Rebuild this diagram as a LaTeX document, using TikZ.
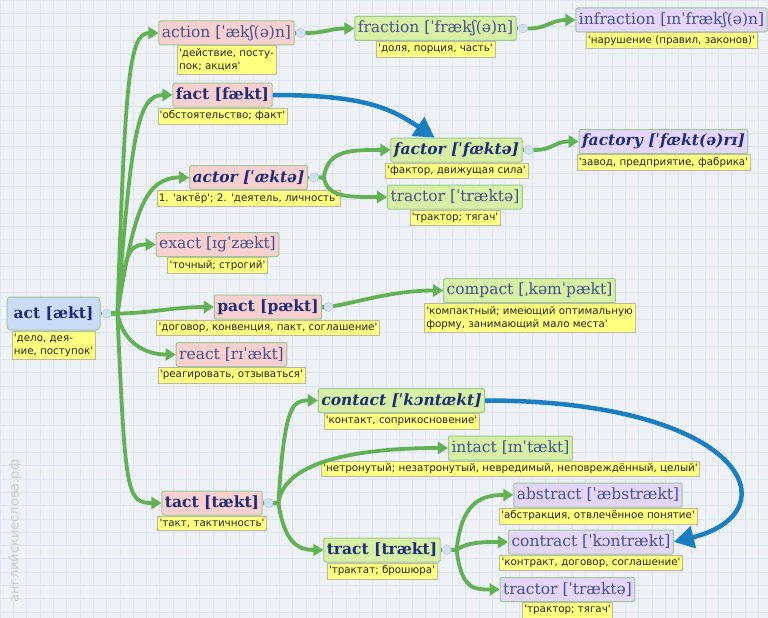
\documentclass[tikz,border=0pt]{standalone}
\usepackage{fontspec}
\usetikzlibrary{arrows.meta,positioning}
\newfontfamily\wordfont{DejaVu Serif}
\newfontfamily\notefont{DejaVu Sans}
\definecolor{paper}{HTML}{EEF2F6}
\definecolor{gridblue}{HTML}{DDE6EE}
\definecolor{pinkfill}{HTML}{F8D0D0}
\definecolor{bluefill}{HTML}{CADCF8}
\definecolor{greenfill}{HTML}{D8F0A6}
\definecolor{violetfill}{HTML}{E4D6FA}
\definecolor{wordedge}{HTML}{9CC990}
\definecolor{wordink}{HTML}{44528E}
\definecolor{boldink}{HTML}{1E2C78}
\definecolor{notefill}{HTML}{FFFF80}
\definecolor{noteedge}{HTML}{B9B9A6}
\definecolor{linkgreen}{HTML}{62B255}
\definecolor{linkblue}{HTML}{1A7FC1}
\definecolor{foldfill}{HTML}{D4E2F6}
\definecolor{foldedge}{HTML}{A8BEDC}
\tikzset{
  word/.style={draw=wordedge, line width=1pt, rounded corners=2pt, inner xsep=3pt, inner ysep=1pt,
    minimum height=24pt, text=wordink, font=\wordfont\fontsize{15.5}{17}\selectfont},
  strong/.style={text=boldink, font=\wordfont\bfseries\fontsize{15.5}{17}\selectfont},
  slanted/.style={text=boldink, font=\wordfont\bfseries\itshape\fontsize{15.5}{17}\selectfont},
  pinkword/.style={word, fill=pinkfill},
  blueword/.style={word, fill=bluefill, rounded corners=4pt, minimum width=93pt, minimum height=33pt},
  greenword/.style={word, fill=greenfill},
  violetword/.style={word, fill=violetfill},
  note/.style={draw=noteedge, fill=notefill, inner xsep=2pt, inner ysep=3pt, align=left,
    text=black!85, font=\notefont\fontsize{10.3}{13}\selectfont},
  fold/.style={circle, draw=foldedge, fill=foldfill, inner sep=0pt, minimum size=9pt,
    text=foldedge, font=\notefont\fontsize{7}{7}\selectfont},
  stub/.style={draw=linkgreen, line width=3.5pt},
  link/.style={draw=linkgreen, line width=3.8pt, -{Triangle[length=10pt,width=12pt]}},
  jump/.style={draw=linkblue, line width=4.5pt, -{Triangle[length=20pt,width=22pt]}},
  sitestamp/.style={rotate=90, text=black!20, font=\notefont\fontsize{13}{13}\selectfont}
}
\begin{document}
\begin{tikzpicture}[x=1pt, y=-1pt]
  \useasboundingbox (0,0) rectangle (768,618);
  \fill[paper] (0,0) rectangle (768,618);
  \foreach \g in {0,13.3,...,768} { \draw[gridblue, line width=0.4pt] (\g,0) -- (\g,618); }
  \foreach \g in {0,13.3,...,618} { \draw[gridblue, line width=0.4pt] (0,\g) -- (768,\g); }
  \node[sitestamp] (stamp) at (15,531) {английскиеслова.рф};

  % root
  \node[blueword, strong] (act) at (53.5,313.5) {act [ækt]};
  \node[note, below=0pt of act] (act-n) {'дело, дея-\\ние, поступок'};
  \node[fold, right=1.5pt of act] (act-b) {–};
  \coordinate[right=6pt of act-b] (act-j);

  % first ring
  \node[pinkword] (action) at (226.5,33) {action [ˈækʃ(ə)n]};
  \node[note, below=0pt of action] (action-n) {'действие, посту-\\пок; акция'};
  \node[fold, right=1.5pt of action] (action-b) {–};
  \node[pinkword, strong] (fact) at (222.5,95) {fact [fækt]};
  \node[note, below=0pt of fact] (fact-n) {'обстоятельство; факт'};
  \node[pinkword, slanted] (actor) at (248.5,177.5) {actor [ˈæktə]};
  \node[note, below=0pt of actor] (actor-n) {1. 'актёр'; 2. 'деятель, личность'};
  \node[fold, right=1.5pt of actor] (actor-b) {–};
  \coordinate[right=5pt of actor-b] (actor-j);
  \node[pinkword] (exact) at (217.5,244.5) {exact [ɪɡˈzækt]};
  \node[note, below=0pt of exact] (exact-n) {'точный; строгий'};
  \node[pinkword, strong] (pact) at (268,307) {pact [pækt]};
  \node[note, below=0pt of pact] (pact-n) {'договор, конвенция, пакт, соглашение'};
  \node[fold, right=1.5pt of pact] (pact-b) {–};
  \node[pinkword] (react) at (231.5,354.5) {react [rɪˈækt]};
  \node[note, below=0pt of react] (react-n) {'реагировать, отзываться'};
  \node[pinkword, strong] (tact) at (212,503) {tact [tækt]};
  \node[note, below=0pt of tact] (tact-n) {'такт, тактичность'};
  \node[fold, right=1.5pt of tact] (tact-b) {–};
  \coordinate[right=5pt of tact-b] (tact-j);

  % second ring
  \node[greenword] (fraction) at (435.5,28.5) {fraction [ˈfrækʃ(ə)n]};
  \node[note, below=0pt of fraction] (fraction-n) {'доля, порция, часть'};
  \node[fold, right=1.5pt of fraction] (fraction-b) {–};
  \node[violetword] (infraction) at (671.5,20) {infraction [ɪnˈfrækʃ(ə)n]};
  \node[note, below=0pt of infraction] (infraction-n) {'нарушение (правил, законов)'};
  \node[greenword, slanted] (factor) at (456.5,150) {factor [ˈfæktə]};
  \node[note, below=0pt of factor] (factor-n) {'фактор, движущая сила'};
  \node[fold, right=1.5pt of factor] (factor-b) {–};
  \node[violetword, slanted] (factory) at (663.5,141.5) {factory [ˈfækt(ə)rɪ]};
  \node[note, below=0pt of factory] (factory-n) {'завод, предприятие, фабрика'};
  \node[greenword] (tractor) at (455,197) {tractor [ˈtræktə]};
  \node[note, below=0pt of tractor] (tractor-n) {'трактор; тягач'};
  \node[greenword] (compact) at (529.5,290.5) {compact [ˌkəmˈpækt]};
  \node[note, below=0pt of compact] (compact-n) {'компактный; имеющий оптимальную\\форму, занимающий мало места'};
  \node[greenword, slanted] (contact) at (401.5,400.5) {contact [ˈkɔntækt]};
  \node[note, below=0pt of contact] (contact-n) {'контакт, соприкосновение'};
  \node[greenword] (intact) at (510.5,448) {intact [ɪnˈtækt]};
  \node[note, below=0pt of intact] (intact-n) {'нетронутый; незатронутый, невредимый, неповреждённый, целый'};
  \node[greenword, strong] (tract) at (382,550) {tract [trækt]};
  \node[note, below=0pt of tract] (tract-n) {'трактат; брошюра'};
  \node[fold, right=1.5pt of tract] (tract-b) {–};
  \coordinate[right=5pt of tract-b] (tract-j);

  % third ring
  \node[violetword] (abstract) at (598,495) {abstract [ˈæbstrækt]};
  \node[note, below=0pt of abstract] (abstract-n) {'абстракция, отвлечённое понятие'};
  \node[violetword] (contract) at (591,542) {contract [ˈkɔntrækt]};
  \node[note, below=0pt of contract] (contract-n) {'контракт, договор, соглашение'};
  \node[violetword] (tractor2) at (567.5,589.5) {tractor [ˈtræktə]};
  \node[note, below=0pt of tractor2] (tractor2-n) {'трактор; тягач'};

  % stubs to the fold buttons
  \foreach \w in {act,action,actor,pact,tact,fraction,factor,tract}
    \draw[stub] (\w) -- (\w-b);

  % green links
  \draw[link] (act-b) -- (act-j) .. controls +(8,-230) and +(-30,0) .. (action.west);
  \draw[link] (act-b) -- (act-j) .. controls +(14,-180) and +(-35,0) .. (fact.west);
  \draw[link] (act-b) -- (act-j) .. controls +(16,-100) and +(-45,0) .. (actor.west);
  \draw[link] (act-b) -- (act-j) .. controls +(8,-55) and +(-30,0) .. (exact.west);
  \draw[link] (act-b) -- (act-j) .. controls +(30,0) and +(-40,0) .. (pact.west);
  \draw[link] (act-b) -- (act-j) .. controls +(6,30) and +(-30,0) .. (react.west);
  \draw[link] (act-b) -- (act-j) .. controls +(8,180) and +(-35,0) .. (tact.west);
  \draw[link] (action-b) .. controls +(25,0) and +(-25,0) .. (fraction.west);
  \draw[link] (fraction-b) .. controls +(25,0) and +(-25,0) .. (infraction.west);
  \draw[link] (actor-b) -- (actor-j) .. controls +(4,-28) and +(-40,0) .. (factor.west);
  \draw[link] (actor-b) -- (actor-j) .. controls +(4,20) and +(-40,0) .. (tractor.west);
  \draw[link] (factor-b) .. controls +(25,0) and +(-25,0) .. (factory.west);
  \draw[link] (pact-b) .. controls +(30,-5) and +(-50,0) .. (compact.west);
  \draw[link] (tact-b) -- (tact-j) .. controls +(6,-100) and +(-25,0) .. (contact.west);
  \draw[link] (tact-b) -- (tact-j) .. controls +(6,-45) and +(-80,0) .. (intact.west);
  \draw[link] (tact-b) -- (tact-j) .. controls +(6,40) and +(-25,0) .. (tract.west);
  \draw[link] (tract-b) -- (tract-j) .. controls +(5,-50) and +(-30,0) .. (abstract.west);
  \draw[link] (tract-b) -- (tract-j) .. controls +(10,-8) and +(-25,0) .. (contract.west);
  \draw[link] (tract-b) -- (tract-j) .. controls +(5,40) and +(-25,0) .. (tractor2.west);

  % blue cross links
  \draw[jump] (fact.east) .. controls +(90,0) and +(-45,-30) .. ([xshift=-22pt]factor.north);
  \draw[jump] (contact.east) .. controls +(260,0) and +(120,-30) .. (contract.east);
\end{tikzpicture}
\end{document}
